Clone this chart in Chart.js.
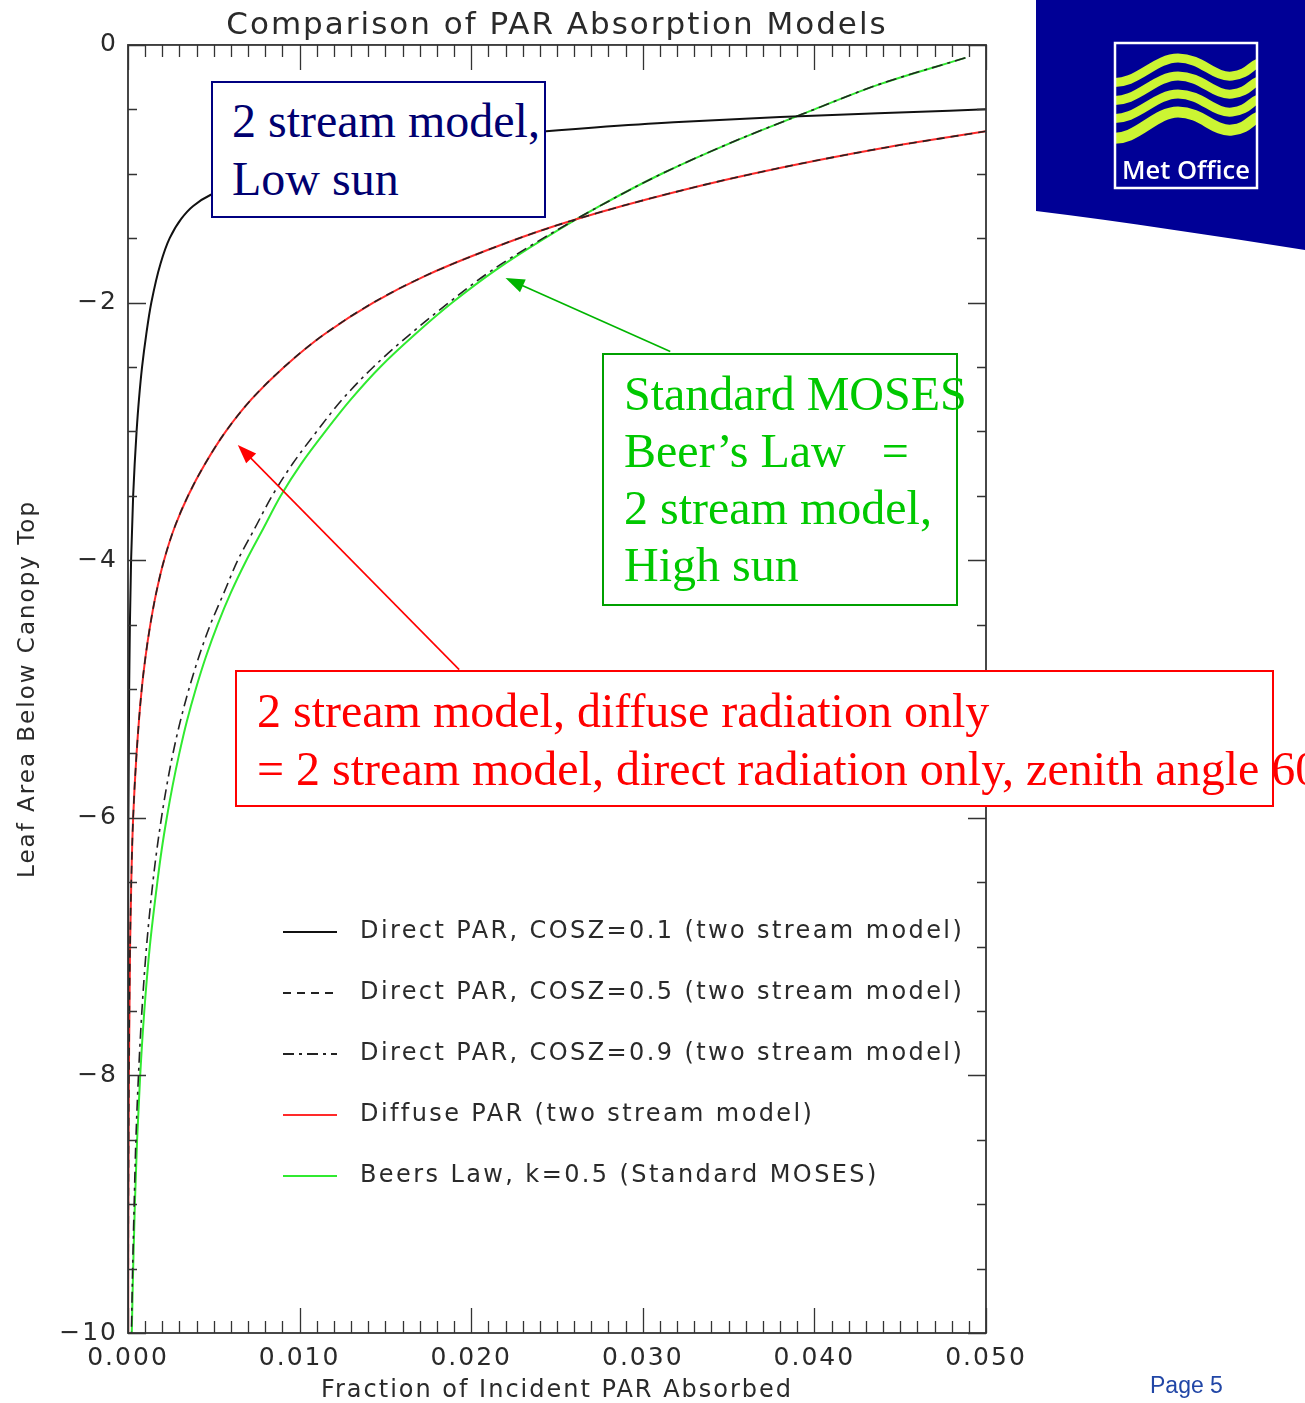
<!DOCTYPE html>
<html>
<head>
<meta charset="utf-8">
<title>Comparison of PAR Absorption Models</title>
<script src="https://cdn.jsdelivr.net/npm/chart.js@4.4.1/dist/chart.umd.min.js"></script>
<style>
  html, body { margin: 0; padding: 0; background: #fff; }
  #page { position: relative; width: 1305px; height: 1403px; overflow: hidden; }
  #chart { position: absolute; left: 0; top: 0; }
  .note {
    position: absolute; box-sizing: border-box; background: #fff;
    border: 2px solid; white-space: pre;
    font: 48px "Liberation Serif", "Times New Roman", serif; line-height: 58px;
  }
  #page5 { position: absolute; left: 1150px; top: 1372px; font: 23px "Liberation Sans", Arial, sans-serif; color: #2146a6; }
</style>
</head>
<body>
<div id="page">
  <canvas id="chart" width="1305" height="1403"></canvas>

  <div class="note" style="left:211px; top:81px; width:335px; height:137px; padding:9px 0 0 19px; border-color:#000080; color:#000070;">2 stream model,<br>Low sun</div>
  <div class="note" style="left:602px; top:353px; width:356px; height:253px; padding:10px 0 0 20px; line-height:57px; border-color:#00a000; color:#00c800;">Standard MOSES<br>Beer’s Law   =<br>2 stream model,<br>High sun</div>
  <div class="note" style="left:235px; top:670px; width:1039px; height:137px; padding:10px 0 0 20px; border-color:#ff0000; color:#ff0000;">2 stream model, diffuse radiation only<br>= 2 stream model, direct radiation only, zenith angle 60</div>

  <svg style="position:absolute; left:1036px; top:0;" width="269" height="260" viewBox="0 0 269 260">
    <defs><clipPath id="sq"><rect x="79" y="44" width="142" height="143"/></clipPath></defs>
    <path d="M0 0H269V250C180 236 90 222 0 211Z" fill="#000096"/>
    <g clip-path="url(#sq)" fill="none" stroke="#ccf533" stroke-width="9">
      <path d="M74 82C100 86 118 58 142 58S178 78 196 76S214 64 226 62"/>
      <path d="M74 100C100 104 118 76 142 76S178 96 196 94S214 82 226 80"/>
      <path d="M74 118C100 122 118 94 142 94S178 114 196 112S214 100 226 98"/>
      <path d="M74 138C100 142 118 112 142 112S178 132 196 130S214 118 226 116" stroke-width="11"/>
    </g>
    <rect x="79" y="43" width="142" height="145" fill="none" stroke="#fff" stroke-width="2.5"/>
    <text x="86" y="179" fill="#fff" font-family="Open Sans, Liberation Sans, sans-serif" font-weight="600" font-size="26" textLength="128" lengthAdjust="spacingAndGlyphs">Met Office</text>
  </svg>

  <div id="page5">Page 5</div>
</div>

<script>
// values: leaf area below canopy top (y) vs fraction absorbed (x)
const cosz01Y = [-0.50, -0.53, -0.56, -0.60, -0.64, -0.68, -0.75, -0.85, -1.0, -1.165, -1.25, -1.35, -1.5, -1.7, -2.0, -2.25, -2.5, -2.75, -3.0, -3.25, -3.5, -4.0, -4.5, -5.0, -6.0, -7.0, -10.0];
const cosz01X = [0.0500, 0.0437, 0.0380, 0.0318, 0.0272, 0.0234, 0.0185, 0.0135, 0.0082, 0.0048, 0.0038, 0.0031, 0.00243, 0.00189, 0.00136, 0.00106, 0.00082, 0.00064, 0.0005, 0.00039, 0.0003, 0.00018, 0.00011, 0.000067, 0.000025, 0.00001, 0.0];

const cosz05Y = [-0.67, -0.8, -1.0, -1.2, -1.4, -1.6, -1.8, -2.0, -2.25, -2.5, -2.75, -3.0, -3.25, -3.5, -3.75, -4.0, -4.25, -4.5, -4.75, -5.0, -5.5, -6.0, -6.5, -7.0, -8.0, -9.0, -10.0];
const cosz05X = [0.0500, 0.0440, 0.0364, 0.0302, 0.0250, 0.0208, 0.0172, 0.0143, 0.0114, 0.0091, 0.0072, 0.0057, 0.0045, 0.0035, 0.0027, 0.0021, 0.00165, 0.0013, 0.00102, 0.0008, 0.0005, 0.0003, 0.00019, 0.00012, 0.00005, 0.00002, 0.00001];

const cosz09Y = [-0.10, -0.30, -0.50, -0.75, -1.0, -1.25, -1.5, -1.75, -2.0, -2.25, -2.5, -2.75, -3.0, -3.25, -3.5, -3.75, -4.0, -4.25, -4.5, -4.75, -5.0, -5.25, -5.5, -5.75, -6.0, -6.25, -6.5, -7.0, -7.5, -8.0, -8.5, -9.0, -9.5, -10.0];
const cosz09X = [0.0488, 0.0439, 0.0400, 0.0353, 0.0311, 0.0275, 0.0242, 0.0212, 0.0187, 0.0164, 0.0143, 0.0125, 0.0110, 0.0096, 0.0084, 0.0074, 0.0064, 0.0056, 0.0048, 0.00413, 0.00355, 0.00305, 0.00262, 0.00226, 0.00195, 0.00168, 0.00145, 0.00108, 0.00081, 0.00061, 0.00046, 0.00036, 0.00027, 0.0002];

const diffuseY = [-0.67, -0.8, -1.0, -1.2, -1.4, -1.6, -1.8, -2.0, -2.25, -2.5, -2.75, -3.0, -3.25, -3.5, -3.75, -4.0, -4.25, -4.5, -4.75, -5.0, -5.5, -6.0, -6.5, -7.0, -8.0, -9.0, -10.0];
const diffuseX = [0.0500, 0.0440, 0.0364, 0.0302, 0.0250, 0.0208, 0.0172, 0.0143, 0.0114, 0.0091, 0.0072, 0.0057, 0.0045, 0.0035, 0.0027, 0.0021, 0.00165, 0.0013, 0.00102, 0.0008, 0.0005, 0.0003, 0.00019, 0.00012, 0.00005, 0.00002, 0.00001];

const beersY = [-0.10, -0.30, -0.50, -0.75, -1.0, -1.25, -1.5, -1.75, -2.0, -2.25, -2.5, -2.75, -3.0, -3.25, -3.5, -3.75, -4.0, -4.25, -4.5, -4.75, -5.0, -5.25, -5.5, -5.75, -6.0, -6.25, -6.5, -7.0, -7.5, -8.0, -8.5, -9.0, -9.5, -10.0];
const beersX = [0.0488, 0.0439, 0.0400, 0.0353, 0.0311, 0.0275, 0.0243, 0.0214, 0.0189, 0.0167, 0.0147, 0.0130, 0.0115, 0.0101, 0.0089, 0.0079, 0.0069, 0.0060, 0.00522, 0.00454, 0.00395, 0.00343, 0.00299, 0.0026, 0.00226, 0.00196, 0.00171, 0.00127, 0.00095, 0.00071, 0.00053, 0.0004, 0.0003, 0.00022];

const seriesLabels = [
  'Direct PAR, COSZ=0.1 (two stream model)',
  'Direct PAR, COSZ=0.5 (two stream model)',
  'Direct PAR, COSZ=0.9 (two stream model)',
  'Diffuse PAR (two stream model)',
  'Beers Law, k=0.5 (Standard MOSES)'
];

// arrow ends in data units: [tailX, tailY, tipX, tipY]
const greenArrow = [0.0316, -2.38, 0.0220, -1.81];
const redArrow = [0.0193, -4.85, 0.0064, -3.105];

const FONT = '"DejaVu Sans", Verdana, sans-serif';
const INK = '#2a2a2a';

const pts = (xs, ys) => xs.map((x, i) => ({ x: x, y: ys[i] }));
const isMajorX = v => Math.round(v * 1000) % 10 === 0;
const isMajorY = v => Math.round(v * 2) % 4 === 0;

function drawArrow(ctx, x1, y1, x2, y2, color) {
  const a = Math.atan2(y2 - y1, x2 - x1);
  const c = Math.cos(a), s = Math.sin(a);
  ctx.strokeStyle = color;
  ctx.fillStyle = color;
  ctx.lineWidth = 1.6;
  ctx.setLineDash([]);
  ctx.beginPath();
  ctx.moveTo(x1, y1);
  ctx.lineTo(x2 - 14 * c, y2 - 14 * s);
  ctx.stroke();
  ctx.beginPath();
  ctx.moveTo(x2, y2);
  ctx.lineTo(x2 - 19 * c + 7 * s, y2 - 19 * s - 7 * c);
  ctx.lineTo(x2 - 19 * c - 7 * s, y2 - 19 * s + 7 * c);
  ctx.closePath();
  ctx.fill();
}

// spaced-out lettering like the plotting package's stroke font
const spacing = {
  id: 'spacing',
  beforeDraw(chart) {
    chart.ctx.letterSpacing = '2px';
  }
};

// box round the plot with inward ticks on all four sides
const frame = {
  id: 'frame',
  afterDatasetsDraw(chart) {
    const { ctx, chartArea: a, scales: { x, y } } = chart;
    ctx.save();
    ctx.strokeStyle = '#333';
    ctx.lineWidth = 1.3;
    ctx.beginPath();
    x.ticks.forEach(t => {
      const px = Math.round(x.getPixelForValue(t.value)) + 0.5;
      const len = isMajorX(t.value) ? 25 : 12;
      ctx.moveTo(px, a.bottom); ctx.lineTo(px, a.bottom - len);
      ctx.moveTo(px, a.top); ctx.lineTo(px, a.top + len);
    });
    y.ticks.forEach(t => {
      const py = Math.round(y.getPixelForValue(t.value)) + 0.5;
      const len = isMajorY(t.value) ? 18 : 9;
      ctx.moveTo(a.left, py); ctx.lineTo(a.left + len, py);
      ctx.moveTo(a.right, py); ctx.lineTo(a.right - len, py);
    });
    ctx.stroke();
    ctx.lineWidth = 1.8;
    ctx.strokeRect(a.left, a.top, a.right - a.left, a.bottom - a.top);
    ctx.restore();
  }
};

// legend inside the plot plus the two annotation arrows
const extras = {
  id: 'extras',
  afterDraw(chart) {
    const { ctx, scales: { x, y } } = chart;
    ctx.save();
    ctx.font = '24px ' + FONT;
    ctx.letterSpacing = '2.4px';
    ctx.textBaseline = 'middle';
    ctx.fillStyle = INK;
    chart.data.datasets.forEach((ds, i) => {
      const ly = 932 + i * 61;
      ctx.strokeStyle = ds.borderColor;
      ctx.lineWidth = 2;
      ctx.setLineDash(ds.borderDash || []);
      ctx.beginPath();
      ctx.moveTo(283, ly);
      ctx.lineTo(337, ly);
      ctx.stroke();
      ctx.fillText(ds.label, 360, ly);
    });
    const px = v => x.getPixelForValue(v), py = v => y.getPixelForValue(v);
    drawArrow(ctx, px(greenArrow[0]), py(greenArrow[1]), px(greenArrow[2]), py(greenArrow[3]), '#00b400');
    drawArrow(ctx, px(redArrow[0]), py(redArrow[1]), px(redArrow[2]), py(redArrow[3]), '#ff0000');
    ctx.restore();
  }
};

// curves are functions of depth, so interpolate along y
const line = (label, xs, ys, color, width, dash) => ({
  label: label,
  data: pts(xs, ys),
  indexAxis: 'y',
  showLine: true,
  borderColor: color,
  borderWidth: width,
  borderDash: dash,
  pointRadius: 0,
  cubicInterpolationMode: 'monotone',
  fill: false
});

new Chart(document.getElementById('chart'), {
  type: 'scatter',
  data: {
    datasets: [
      line(seriesLabels[0], cosz01X, cosz01Y, '#111111', 2, []),
      line(seriesLabels[1], cosz05X, cosz05Y, '#222222', 1.6, [8, 6]),
      line(seriesLabels[2], cosz09X, cosz09Y, '#222222', 1.6, [11, 5, 3, 5]),
      line(seriesLabels[3], diffuseX, diffuseY, '#ff2a2a', 2, []),
      line(seriesLabels[4], beersX, beersY, '#30ea30', 2, [])
    ]
  },
  options: {
    responsive: false,
    animation: false,
    events: [],
    layout: { padding: { left: 0, right: 319, top: 0, bottom: 0 } },
    plugins: {
      legend: { display: false },
      tooltip: { enabled: false },
      title: {
        display: true,
        text: 'Comparison of PAR Absorption Models',
        fullSize: false,
        color: INK,
        font: { family: FONT, size: 31, weight: 'normal', lineHeight: 1.16 },
        padding: { top: 8, bottom: 1 }
      }
    },
    scales: {
      x: {
        type: 'linear',
        position: 'bottom',
        min: 0,
        max: 0.05,
        grid: { display: false, drawTicks: false },
        border: { display: false },
        ticks: {
          stepSize: 0.001,
          autoSkip: false,
          maxRotation: 0,
          padding: 10,
          color: INK,
          font: { family: FONT, size: 25 },
          callback: v => isMajorX(v) ? v.toFixed(3) : ''
        },
        title: {
          display: true,
          text: 'Fraction of Incident PAR Absorbed',
          color: INK,
          font: { family: FONT, size: 24, lineHeight: 1 },
          padding: 0
        },
        afterFit(scale) { scale.height = 70; }
      },
      y: {
        type: 'linear',
        position: 'left',
        min: -10,
        max: 0,
        grid: { display: false, drawTicks: false },
        border: { display: false },
        ticks: {
          stepSize: 0.5,
          autoSkip: false,
          padding: 10,
          color: INK,
          font: { family: FONT, size: 25 },
          callback: v => isMajorY(v) ? (v < 0 ? '\u2212' + (-v) : '0') : ''
        },
        title: {
          display: true,
          text: 'Leaf Area Below Canopy Top',
          color: INK,
          font: { family: FONT, size: 23, lineHeight: 1.2 },
          padding: { top: 14, bottom: 0 }
        },
        afterFit(scale) { scale.width = 128; }
      }
    }
  },
  plugins: [spacing, frame, extras]
});
</script>
</body>
</html>
